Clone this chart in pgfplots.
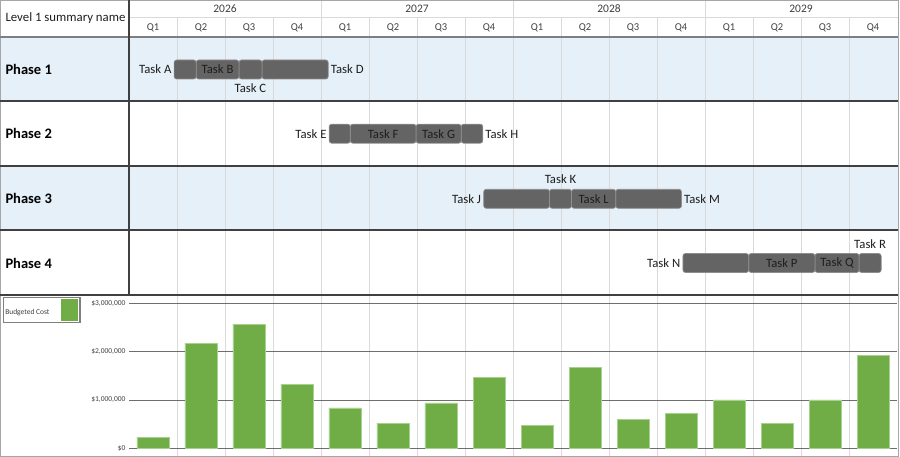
\documentclass[border=0pt]{standalone}
\usepackage{pgfplots}
\pgfplotsset{compat=1.18}
\usepackage{pgfplotstable}
\usepackage{fontspec}
\setmainfont{Carlito}

\definecolor{barGray}{HTML}{646464}
\definecolor{barEdge}{HTML}{8E8E8E}
\definecolor{bandBlue}{HTML}{E5F0F8}
\definecolor{gridGray}{HTML}{D9D9D9}
\definecolor{sepDark}{HTML}{404040}
\definecolor{lineGray}{HTML}{7F7F7F}
\definecolor{frameGray}{HTML}{A6A6A6}
\definecolor{costGreen}{HTML}{70AD47}
\definecolor{costEdge}{HTML}{A9D18E}
\definecolor{hGrid}{HTML}{6E6E6E}
\definecolor{baseGray}{HTML}{AFAFAF}
\definecolor{txt}{HTML}{1E1E1E}
\definecolor{hdrTxt}{HTML}{404040}

\newcommand\fs[2]{\fontsize{#1bp}{#2bp}\selectfont}

% gantt: one row per phase, offset then the four task lengths (in quarters)
\pgfplotstableread{
y      off    s1    s2    s3    s4
-69.5  0.94   0.46  0.89  0.48  1.38
-133.7 4.17   0.44  1.37  0.94  0.45
-198.8 7.39   1.37  0.46  0.92  1.37
-263.0 11.54  1.37  1.38  0.92  0.46
}\tasks

% task labels, grouped by where they sit next to their bar
\pgfplotstableread[col sep=comma]{
x,y,label
0.94,-69.5,Task A
4.17,-133.7,Task E
7.39,-198.8,Task J
11.54,-263,Task N
}\labLeft
\pgfplotstableread[col sep=comma]{
x,y,label
4.15,-69.5,Task D
7.37,-133.7,Task H
11.51,-198.8,Task M
}\labRight
\pgfplotstableread[col sep=comma]{
x,y,label
1.845,-69.5,Task B
5.295,-133.7,Task F
6.45,-133.7,Task G
9.68,-198.8,Task L
13.6,-263,Task P
14.75,-263,Task Q
}\labIn
\pgfplotstableread[col sep=comma]{
x,y,label
8.99,-185,Task K
15.44,-249.5,Task R
}\labAbove
\pgfplotstableread[col sep=comma]{
x,y,label
2.53,-82.5,Task C
}\labBelow

% budgeted cost per quarter, 2026 Q1 .. 2029 Q4
\pgfplotstableread{
q     cost
0.5   230000
1.5   2170000
2.5   2570000
3.5   1325000
4.5   835000
5.5   520000
6.5   940000
7.5   1460000
8.5   470000
9.5   1670000
10.5  590000
11.5  730000
12.5  1000000
13.5  520000
14.5  1000000
15.5  1920000
}\costs

\begin{document}
\begin{tikzpicture}[x=1bp,y=1bp]
\useasboundingbox (0,0) rectangle (900,-457);
\coordinate (ganttSW) at (129,-295);
\coordinate (costSW) at (129,-457);

% row bands
\fill[bandBlue] (0,-37) rectangle (898,-101);
\fill[bandBlue] (0,-166) rectangle (898,-230);

% gantt bars
\begin{axis}[
  at={(ganttSW)}, anchor=south west,
  scale only axis, width=768bp, height=278bp,
  xmin=0, xmax=16, ymin=-295, ymax=-17,
  xbar stacked, bar width=19,
  axis line style={draw=none},
  xtick={1,...,15}, xticklabels={}, ytick=\empty,
  major tick length=0pt,
  xmajorgrids, x grid style={gridGray, line width=0.8bp},
  task/.style={fill=barGray, draw=barEdge, line width=0.7bp, rounded corners=2.5bp},
]
\addplot[draw=none, fill=none] table[x=off, y=y]{\tasks};
\addplot[task] table[x=s1, y=y]{\tasks};
\addplot[task] table[x=s2, y=y]{\tasks};
\addplot[task] table[x=s3, y=y]{\tasks};
\addplot[task] table[x=s4, y=y]{\tasks};
\end{axis}

% task labels
\begin{axis}[
  at={(ganttSW)}, anchor=south west,
  scale only axis, width=768bp, height=278bp,
  xmin=0, xmax=16, ymin=-295, ymax=-17,
  hide axis, clip=false,
  lab/.style={draw=none, mark=none, nodes near coords, point meta=explicit symbolic,
    every node near coord/.append style={anchor=#1, font=\fs{12.7}{15},
      text=txt, inner xsep=2.5bp, inner ysep=1bp}},
]
\addplot[lab=east]   table[x=x, y=y, meta=label]{\labLeft};
\addplot[lab=west]   table[x=x, y=y, meta=label]{\labRight};
\addplot[lab=center] table[x=x, y=y, meta=label]{\labIn};
\addplot[lab=south]  table[x=x, y=y, meta=label]{\labAbove};
\addplot[lab=north]  table[x=x, y=y, meta=label]{\labBelow};
\end{axis}

% budgeted cost
\begin{axis}[
  at={(costSW)}, anchor=south west,
  scale only axis, width=768bp, height=162bp,
  xmin=0, xmax=16, ymin=-180000, ymax=3171700,
  ybar, bar width=0.667,
  axis line style={draw=none}, major tick length=0pt,
  xtick={1,...,15}, xticklabels={},
  xmajorgrids, x grid style={gridGray, line width=0.8bp},
  ytick={1000000,2000000,3000000},
  yticklabels={{\$1,000,000},{\$2,000,000},{\$3,000,000}},
  extra y ticks={0}, extra y tick labels={\$0},
  extra y tick style={major grid style={draw=baseGray, line width=2bp}},
  ymajorgrids, y grid style={hGrid, line width=0.9bp},
  scaled y ticks=false,
  yticklabel style={font=\fs{7.5}{9}, text=hdrTxt},
  legend plot pos=right,
  legend cell align=left,
  legend image code/.code={\fill[costGreen] (0bp,-8.5bp) rectangle (16bp,12.5bp);},
  legend style={at={(axis description cs:-0.1645,0.9858)}, anchor=north west,
    draw=lineGray, line width=1.2bp, fill=white, inner xsep=2bp, inner ysep=1.5bp,
    nodes={inner sep=0pt, font=\fs{7.5}{9}, text=hdrTxt}, column sep=12bp},
]
\addplot[fill=costGreen, draw=costEdge, line width=0.6bp] table[x=q, y=cost]{\costs};
\addlegendentry{Budgeted Cost}
\end{axis}

% header
\foreach \yr [count=\i from 0] in {2026,2027,2028,2029}
  \node[font=\fs{11.5}{13}, text=hdrTxt] at (129+\i*192+96,-9) {\yr};
\foreach \k in {0,...,15} {
  \pgfmathtruncatemacro\q{mod(\k,4)+1}
  \node[font=\fs{10.5}{12}, text=hdrTxt] at (129+\k*48+24,-27.5) {Q\q};
}
\draw[gridGray, line width=0.8bp] (129,-17) -- (898,-17);
\foreach \xx in {321,513,705}
  \draw[gridGray, line width=0.8bp] (\xx,0) -- (\xx,-17);

% left column
\node[anchor=west, font=\fs{12.8}{15}, text=txt] at (2,-18.5) {Level 1 summary name};
\foreach \ph/\yy in {1/-69.5,2/-133.7,3/-198.5,4/-263}
  \node[anchor=west, font=\bfseries\fs{14.5}{17}, text=black] at (2,\yy) {Phase \ph};

% frame
\draw[frameGray, line width=1bp] (0.5,-0.5) rectangle (898.5,-456);
\draw[lineGray, line width=1.1bp] (0,-37) -- (898,-37);
\draw[sepDark, line width=2.2bp] (0,-101) -- (898,-101);
\draw[sepDark, line width=2.2bp] (0,-166) -- (898,-166);
\draw[sepDark, line width=2.2bp] (0,-230) -- (898,-230);
\draw[sepDark, line width=1.3bp] (0,-295) -- (898,-295);
\draw[sepDark, line width=1.4bp] (129,0) -- (129,-295);
\end{tikzpicture}
\end{document}
